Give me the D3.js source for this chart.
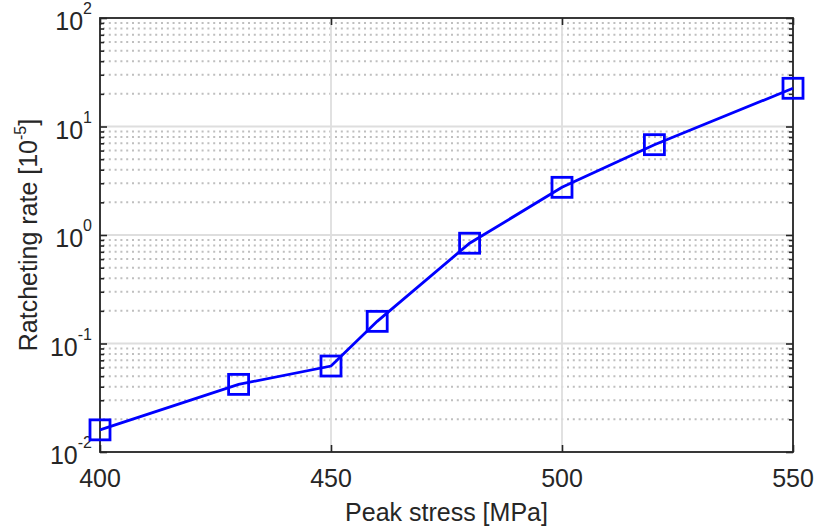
<!DOCTYPE html>
<html>
<head>
<meta charset="utf-8">
<script src="https://cdn.jsdelivr.net/npm/d3@7"></script>
<style>
  html, body { margin: 0; padding: 0; background: #fff; }
  svg { display: block; font-family: "Liberation Sans", Arial, Helvetica, sans-serif; }
</style>
</head>
<body>
<svg id="chart" width="816" height="526"></svg>
<script>
// Peak stress [MPa] vs ratcheting rate [1e-5]
const stress = [400, 430, 450, 460, 480, 500, 520, 550];
const rate = [0.016, 0.042, 0.062, 0.16, 0.84, 2.75, 6.8, 22.5];

const xTicks = [400, 450, 500, 550];
const yDecadeExps = [-2, -1, 0, 1, 2];

const margin = { left: 100, right: 23, top: 18, bottom: 74 };
const W = 816, H = 526;
const x0 = margin.left, x1 = W - margin.right;
const y0 = margin.top, y1 = H - margin.bottom;

const svg = d3.select("#chart");
const x = d3.scaleLinear().domain([400, 550]).range([x0, x1]);
const y = d3.scaleLog().domain([0.01, 100]).range([y1, y0]);

const axisColor = "#262626";

// minor values: 2..9 of each decade
const minorVals = [];
for (let e = -2; e < 2; e++) {
  for (let m = 2; m <= 9; m++) minorVals.push(m * Math.pow(10, e));
}
const majorVals = yDecadeExps.map(e => Math.pow(10, e));

const grid = svg.append("g");
// minor dotted grid
grid.selectAll("line.minor").data(minorVals).join("line")
  .attr("x1", x0 + 3).attr("x2", x1)
  .attr("y1", d => y(d)).attr("y2", d => y(d))
  .attr("stroke", "#bfbfbf").attr("stroke-width", 2)
  .attr("stroke-dasharray", "2,3.8");
// major solid grid
grid.selectAll("line.majy").data(majorVals).join("line")
  .attr("x1", x0).attr("x2", x1)
  .attr("y1", d => y(d)).attr("y2", d => y(d))
  .attr("stroke", "#dedede").attr("stroke-width", 1.8);
grid.selectAll("line.majx").data(xTicks).join("line")
  .attr("y1", y0).attr("y2", y1)
  .attr("x1", d => x(d)).attr("x2", d => x(d))
  .attr("stroke", "#dedede").attr("stroke-width", 1.8);

// axes: ticks drawn inward on all four sides
const tickStroke = (g) => {
  g.selectAll(".domain").remove();
  g.selectAll(".tick line").attr("stroke", axisColor).attr("stroke-width", 1.6);
  g.selectAll(".tick text").remove();
};
svg.append("g").attr("transform", `translate(0,${y1})`)
  .call(d3.axisTop(x).tickValues(xTicks).tickSize(7)).call(tickStroke);
svg.append("g").attr("transform", `translate(0,${y0})`)
  .call(d3.axisBottom(x).tickValues(xTicks).tickSize(7)).call(tickStroke);
svg.append("g").attr("transform", `translate(${x0},0)`)
  .call(d3.axisRight(y).tickValues(majorVals).tickSize(7)).call(tickStroke);
svg.append("g").attr("transform", `translate(${x0},0)`)
  .call(d3.axisRight(y).tickValues(minorVals).tickSize(4)).call(tickStroke);
svg.append("g").attr("transform", `translate(${x1},0)`)
  .call(d3.axisLeft(y).tickValues(majorVals).tickSize(7)).call(tickStroke);
svg.append("g").attr("transform", `translate(${x1},0)`)
  .call(d3.axisLeft(y).tickValues(minorVals).tickSize(4)).call(tickStroke);

// box
svg.append("rect")
  .attr("x", x0).attr("y", y0).attr("width", x1 - x0).attr("height", y1 - y0)
  .attr("fill", "none").attr("stroke", axisColor).attr("stroke-width", 1.8);

// x tick labels
svg.append("g").selectAll("text").data(xTicks).join("text")
  .attr("x", d => x(d)).attr("y", y1 + 34.5)
  .attr("text-anchor", "middle").attr("font-size", 25).attr("fill", axisColor)
  .text(d => d);

// y tick labels: 10^e
const yl = svg.append("g").selectAll("text").data(yDecadeExps).join("text")
  .attr("x", x0 - 8).attr("y", e => y(Math.pow(10, e)) + 12)
  .attr("text-anchor", "end").attr("fill", axisColor);
yl.append("tspan").attr("font-size", 25).text("10");
yl.append("tspan").attr("font-size", 16).attr("dy", -16).text(e => String(e));

// axis titles
svg.append("text")
  .attr("x", (x0 + x1) / 2).attr("y", 521)
  .attr("text-anchor", "middle").attr("font-size", 25).attr("fill", axisColor)
  .text("Peak stress [MPa]");

const yt = svg.append("text")
  .attr("transform", `translate(37,${(y0 + y1) / 2}) rotate(-90)`)
  .attr("text-anchor", "middle").attr("font-size", 25).attr("fill", axisColor);
yt.append("tspan").text("Ratcheting rate [10");
yt.append("tspan").attr("font-size", 16).attr("dy", -11).text("-5");
yt.append("tspan").attr("dy", 11).text("]");

// data line and square markers
const pts = stress.map((s, i) => [s, rate[i]]);
svg.append("path")
  .attr("d", d3.line().x(d => x(d[0])).y(d => y(d[1]))(pts))
  .attr("fill", "none").attr("stroke", "#0000ff").attr("stroke-width", 2.8);
const ms = 20;
svg.append("g").selectAll("rect").data(pts).join("rect")
  .attr("x", d => x(d[0]) - ms / 2).attr("y", d => y(d[1]) - ms / 2)
  .attr("width", ms).attr("height", ms)
  .attr("fill", "none").attr("stroke", "#0000ff").attr("stroke-width", 2.8);
</script>
</body>
</html>
